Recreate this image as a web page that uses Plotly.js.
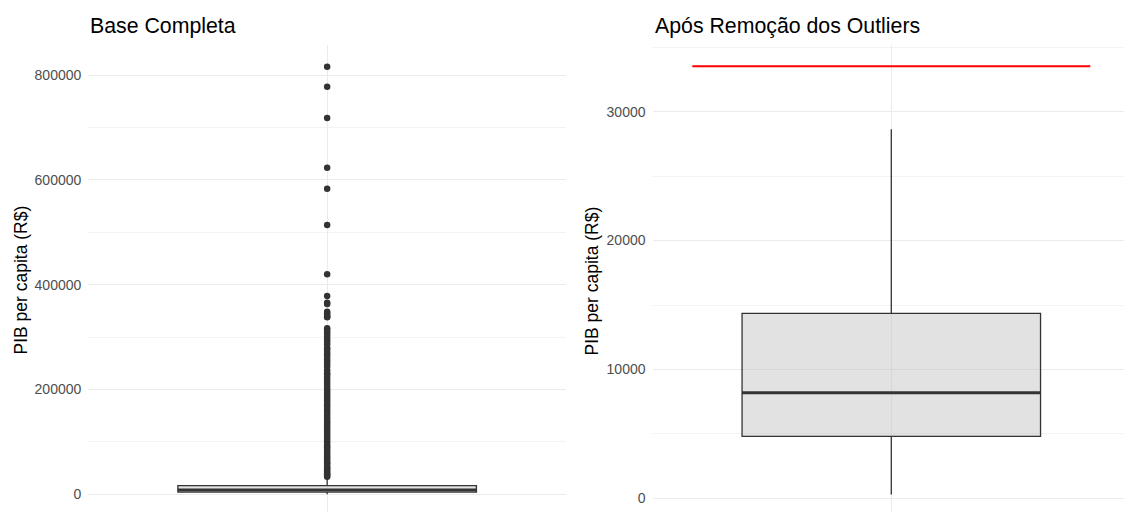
<!DOCTYPE html>
<html>
<head>
<meta charset="utf-8">
<script src="https://cdn.plot.ly/plotly-3.0.1.min.js"></script>
<style>html,body{margin:0;padding:0;background:#fff}#chart{width:1124px;height:512px}</style>
</head>
<body>
<div id="chart"></div>
<script>
// ---- data ----
const panelTitles = ["Base Completa", "Após Remoção dos Outliers"];
const yTitle = "PIB per capita (R$)";

// full dataset box statistics
const fullStats = {q1: 4300, median: 8000, q3: 16400, lowerfence: 290, upperfence: 33400};
// outliers (full dataset)
const fullOutliers = [816300, 778100, 718400, 623500, 583400, 514100, 420000, 378500, 365800, 363300,
  348600, 345500, 342300, 339000, 337900,
  316900, 313600, 309200, 304800, 300300, 295700, 291000, 286400, 279900, 276500, 271800, 267300,
  262400, 257500, 252800, 247900, 243000, 236100, 231200, 228000, 223100, 218300, 213400, 208500,
  203600, 198700, 193900, 189000, 184200, 179300, 174600, 169800, 165100, 160400, 155700, 151200,
  146300, 141900, 137400, 132800, 128100, 123600, 119300, 114900, 110400, 106200, 101500, 97800,
  93100, 89700, 85300, 81000, 77600, 73200, 69800, 66500, 62100, 59400, 55900, 52300, 49800, 46200,
  43600, 40100, 37900, 35200, 33700];

// trimmed dataset box statistics
const trimStats = {q1: 4800, median: 8200, q3: 14350, lowerfence: 290, upperfence: 28640};
// cut-off threshold (red line)
const cutoff = 33523;

const gridMajor = "#EBEBEB";
const dark = "#333333";
const boxFill = "rgba(190,190,190,0.45)";
const FONT = "Liberation Sans, Arial, sans-serif";

function boxTrace(s, xa, ya) {
  return {type: "box", x: [1], q1: [s.q1], median: [s.median], q3: [s.q3],
    lowerfence: [s.lowerfence], upperfence: [s.upperfence], width: 0.75, whiskerwidth: 0,
    fillcolor: boxFill, line: {color: dark, width: 1.3}, xaxis: xa, yaxis: ya,
    hoverinfo: "skip", showlegend: false};
}
function medianTrace(s, xa, ya) {
  return {type: "scatter", mode: "lines", x: [0.625, 1.375], y: [s.median, s.median],
    line: {color: dark, width: 3}, xaxis: xa, yaxis: ya, showlegend: false, hoverinfo: "skip"};
}

const traces = [
  boxTrace(fullStats, "x", "y"),
  medianTrace(fullStats, "x", "y"),
  {type: "scatter", mode: "markers", x: fullOutliers.map(() => 1), y: fullOutliers,
    marker: {color: dark, size: 6.5}, xaxis: "x", yaxis: "y", showlegend: false, hoverinfo: "skip"},
  boxTrace(trimStats, "x2", "y2"),
  medianTrace(trimStats, "x2", "y2"),
  {type: "scatter", mode: "lines", x: [0.5, 1.5], y: [cutoff, cutoff],
    line: {color: "#FF0000", width: 2}, xaxis: "x2", yaxis: "y2", showlegend: false, hoverinfo: "skip"}
];

const W = 1124, H = 512;
const topPx = 45;
const yDom = [0, (H - topPx) / H];
const tickFont = {family: FONT, size: 14, color: "#4D4D4D"};

function xAxis(l, r, range) {
  return {domain: [l / W, r / W], range: range, showticklabels: false, ticks: "",
    tickvals: [1], showgrid: true, gridcolor: gridMajor, gridwidth: 1, zeroline: false, showline: false, fixedrange: true};
}
function yAxis(range, dtick, anchor) {
  return {domain: yDom, range: range, dtick: dtick, tick0: 0, tickformat: "d", anchor: anchor,
    showgrid: true, gridcolor: gridMajor, gridwidth: 1, zeroline: false, showline: false, ticks: "",
    tickfont: tickFont, ticklabelstandoff: 6,
    minor: {dtick: dtick / 2, tick0: 0, showgrid: true, gridcolor: "#F3F3F3", gridwidth: 1, ticks: ""}};
}

const layout = {
  width: W, height: H, margin: {l: 0, r: 0, t: 0, b: 0},
  paper_bgcolor: "#fff", plot_bgcolor: "#fff", showlegend: false,
  xaxis: Object.assign(xAxis(88.3, 566, [0.4, 1.6]), {anchor: "y"}),
  yaxis: yAxis([-33800, 857700], 200000, "x"),
  xaxis2: Object.assign(xAxis(652.5, 1124, [0.4, 1.5847]), {anchor: "y2"}),
  yaxis2: yAxis([-1063, 35176], 10000, "x2"),
  annotations: [
    {text: panelTitles[0], xref: "paper", yref: "paper", x: 88.3 / W, y: 1 - 25.5 / H, xanchor: "left", yanchor: "middle",
      showarrow: false, font: {family: FONT, size: 21.3, color: "#000"}},
    {text: panelTitles[1], xref: "paper", yref: "paper", x: 652.5 / W, y: 1 - 25.5 / H, xanchor: "left", yanchor: "middle",
      showarrow: false, font: {family: FONT, size: 21.3, color: "#000"}},
    {text: yTitle, xref: "paper", yref: "paper", x: 20 / W, y: 1 - 280.5 / H, xanchor: "center", yanchor: "middle",
      textangle: -90, showarrow: false, font: {family: FONT, size: 17.5, color: "#000"}},
    {text: yTitle, xref: "paper", yref: "paper", x: 591 / W, y: 1 - 280.5 / H, xanchor: "center", yanchor: "middle",
      textangle: -90, showarrow: false, font: {family: FONT, size: 17.5, color: "#000"}}
  ]
};

Plotly.newPlot("chart", traces, layout, {displayModeBar: false, staticPlot: true});
</script>
</body>
</html>
